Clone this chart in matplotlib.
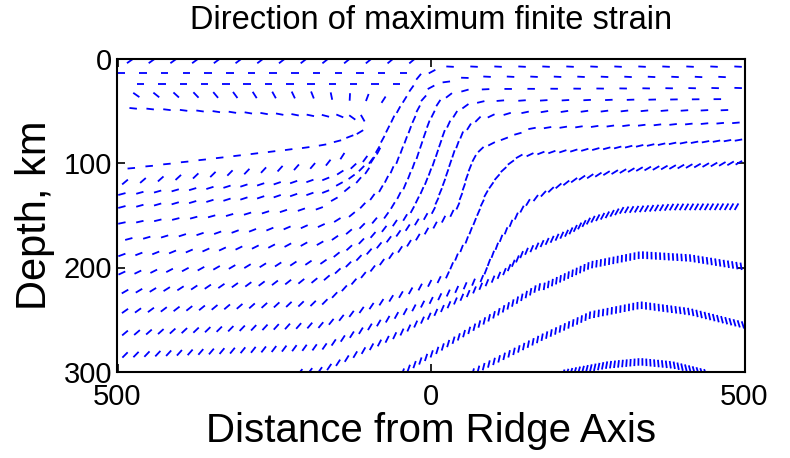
import numpy as np
import matplotlib
matplotlib.use("Agg")
import matplotlib.pyplot as plt
from matplotlib.collections import LineCollection

plt.rcParams['font.family'] = ['Liberation Sans', 'DejaVu Sans']

# Flow-line traces: knots (x km, depth km), strain-axis angle (deg, screen, ccw+)
# and spacing of markers along the trace (px)
T1 = dict(x=[-480, -29], d=[2.4, 2.4], a=[35, 40], g=[21.7, 21.7])
T2 = dict(x=[-494, -44], d=[13.6, 13.6], a=[0, 0], g=[21.7, 21.7])
T3 = dict(x=[-463, -55], d=[24.4, 24.4], a=[0, 0], g=[21.3, 21.3])
T4 = dict(x=[-470, -176, -145, -116, -89, -65], d=[34.9, 34.9, 36.8, 36.8, 37.8, 40.7],
          a=[-35, -70, -85, -100, -120, -125], g=[20, 19, 18, 17, 16, 16])
T5 = dict(x=[-475, -177, -137, -121, -109, -101], d=[47.7, 54.8, 55, 57, 57, 62.7],
          a=[-6, -12, -25, -40, -60, -75], g=[17, 15, 12, 10, 8, 8])
A1 = dict(x=[-478, -188, -158, -137, -119, -105], d=[105, 84.4, 81.2, 76.3, 72.5, 67.5],
          a=[5, 8, 12, 18, 25, 40], g=[18, 17, 14, 12, 10, 10])
P1 = dict(x=[-488, -172, -129], d=[118.2, 101.9, 90], a=[40, 50, 60], g=[18, 16, 14])
Q1 = dict(x=[-493, -172, -129, -94], d=[129.7, 116.3, 105, 92], a=[15, 20, 40, 60], g=[18, 16, 14, 12])
R1 = dict(x=[-493, -172, -129, -94, -73], d=[142.1, 128.7, 114.4, 97, 80],
          a=[15, 20, 35, 55, 70], g=[18, 16, 13, 12, 12])
S1 = dict(x=[-493, -172, -105, -62, -18, 30, 490], d=[157.4, 143.1, 111.5, 58.9, 15.8, 7.8, 7.8],
          a=[12, 20, 55, 65, 50, -3, -3], g=[18, 18, 12, 11, 15, 24, 24])
S2 = dict(x=[-482, -172, -124, -81, -53, -34, -18, -2, 33, 65, 482],
          d=[172.7, 159.7, 148.8, 125.8, 97.1, 68.4, 44.5, 28, 20.6, 17.4, 17.7],
          a=[15, 25, 40, 60, 70, 70, 60, 30, 0, -3, -3], g=[18, 17, 14, 11, 11, 11, 12, 16, 20, 23.5, 23.5])
S3 = dict(x=[-493, -172, -70, -41, -21, -5, 14, 43, 94, 496],
          d=[188, 176.6, 149.8, 121.1, 92.4, 63.6, 39.7, 31.1, 29.2, 28.2],
          a=[20, 30, 55, 68, 72, 70, 55, 20, 0, -2], g=[17, 16, 12, 11, 11, 11, 14, 20, 23, 23])
S4 = dict(x=[-493, -172, -34, -10, 6, 22, 43, 65, 97, 482],
          d=[205.3, 194.7, 149.8, 121.1, 97.1, 68.4, 49.3, 42.6, 40.4, 38.8],
          a=[25, 35, 60, 68, 72, 70, 55, 20, 5, 0], g=[16, 15, 11, 10, 10, 11, 14, 18, 21.7, 21.7])
S5 = dict(x=[-488, -172, 3, 22, 35, 49, 70, 102, 163, 493],
          d=[223, 212, 146.9, 116.3, 92.4, 73.2, 58.9, 54, 50.9, 49.3],
          a=[30, 40, 62, 70, 72, 68, 50, 20, 10, 2], g=[14, 13, 10, 10, 10, 11, 13, 17, 20, 20])
S6 = dict(x=[-488, -172, 41, 51, 59, 67, 78, 99, 163, 496],
          d=[241.6, 234, 145, 125.8, 109.6, 97.1, 87.6, 80.9, 66.5, 61.4],
          a=[35, 45, 65, 70, 70, 65, 45, 25, 10, 5], g=[13, 12, 10, 10, 10, 11, 12, 14, 15.7, 15.7])
S7 = dict(x=[-488, -172, 25, 35, 57, 73, 89, 110, 137, 179, 281, 386, 493],
          d=[262.7, 255, 208.8, 195.7, 173.7, 151.4, 127.5, 109.6, 94, 90.1, 85.9, 81.2, 78],
          a=[40, 50, 65, 68, 70, 68, 60, 45, 30, 20, 15, 12, 10],
          g=[12, 11, 10, 10, 10, 10, 10, 10, 11, 11, 11, 11, 11])
S8 = dict(x=[-488, -172, 83, 94, 110, 131, 153, 185, 206, 238, 281, 334, 440, 493],
          d=[283.7, 276.1, 210.1, 192.8, 173.7, 154.6, 138.3, 127.5, 121.1, 114.4, 109.6, 105.7, 101.9, 99.7],
          a=[45, 55, 68, 70, 70, 68, 60, 45, 40, 35, 32, 30, 30, 30],
          g=[11, 10, 9, 9, 9, 9, 9, 8.5, 8.3, 8.3, 8.3, 8.3, 8.3, 8.3])
S9 = dict(x=[-209, -172, -49, 102, 121, 147, 179, 217, 254, 306, 386, 493],
          d=[300, 298, 262.7, 210.1, 202.4, 186.1, 176.6, 167, 154.6, 145, 142.1, 141.8],
          a=[50, 55, 65, 68, 68, 68, 65, 65, 62, 60, 60, 60],
          g=[10, 10, 8, 7, 6, 6, 5.5, 5, 5, 5, 5, 5])
S10 = dict(x=[-45, 62, 171, 179, 254, 334, 413, 498], d=[300, 259.8, 218.7, 218.5, 197.6, 188, 190.9, 199.2],
           a=[70, 75, 80, 82, 85, 90, 95, 100], g=[7, 6, 5, 4.5, 4.3, 4.3, 4.3, 4.3])
S11 = dict(x=[67, 179, 254, 334, 413, 498], d=[300, 266.2, 245.5, 236, 242.3, 255],
           a=[75, 80, 85, 90, 100, 108], g=[6, 5, 4.5, 4.3, 4.3, 4.3])
S12 = dict(x=[211, 281, 334, 386, 440], d=[301, 293.3, 290.2, 293.3, 301],
           a=[70, 80, 90, 100, 110], g=[4, 4, 4, 4, 4])

traces = [T1, T2, T3, T4, T5, A1, P1, Q1, R1, S1, S2, S3, S4, S5, S6, S7, S8, S9, S10, S11, S12]

x_ticks = [-500, 0, 500]
x_ticklabels = ['500', '0', '500']
y_ticks = [0, 100, 200, 300]

SEG_PX = 7.5

fig = plt.figure(figsize=(7.9, 4.58), dpi=100)
ax = fig.add_axes([117.5 / 790, 1 - 372 / 458, (744.5 - 117.5) / 790, (372 - 58.5) / 458])
ax.set_xlim(-500, 500)
ax.set_ylim(300, 0)


def draw_trace(tr):
    pts = ax.transData.transform(np.column_stack([tr['x'], tr['d']]))
    seg = np.hypot(np.diff(pts[:, 0]), np.diff(pts[:, 1]))
    cum = np.concatenate([[0.0], np.cumsum(seg)])
    total = cum[-1]
    s = 0.0
    pos = []
    while s <= total + 1e-6:
        pos.append(s)
        s += np.interp(s, cum, tr['g'])
    pos = np.array(pos)
    px = np.interp(pos, cum, pts[:, 0])
    py = np.interp(pos, cum, pts[:, 1])
    ang = np.deg2rad(np.interp(pos, cum, tr['a']))
    h = SEG_PX / 2
    p0 = np.column_stack([px - h * np.cos(ang), py - h * np.sin(ang)])
    p1 = np.column_stack([px + h * np.cos(ang), py + h * np.sin(ang)])
    inv = ax.transData.inverted()
    segs = np.stack([inv.transform(p0), inv.transform(p1)], axis=1)
    ax.add_collection(LineCollection(segs, colors='#0000ff', linewidths=1.3, capstyle='butt'))


for tr in traces:
    draw_trace(tr)

ax.set_xticks(x_ticks)
ax.set_xticklabels(x_ticklabels)
ax.set_yticks(y_ticks)
ax.tick_params(direction='in', length=6, width=1.2, top=True, right=True, labelsize=21)
ax.tick_params(axis='x', pad=8)
ax.tick_params(axis='y', pad=4)
for sp in ax.spines.values():
    sp.set_linewidth(1.5)
ax.set_xlabel('Distance from Ridge Axis', fontsize=29, labelpad=1)
ax.set_ylabel('Depth, km', fontsize=30, labelpad=6)
ax.set_title('Direction of maximum finite strain', fontsize=23.5, pad=21)

fig.savefig('out.png', dpi=100)
